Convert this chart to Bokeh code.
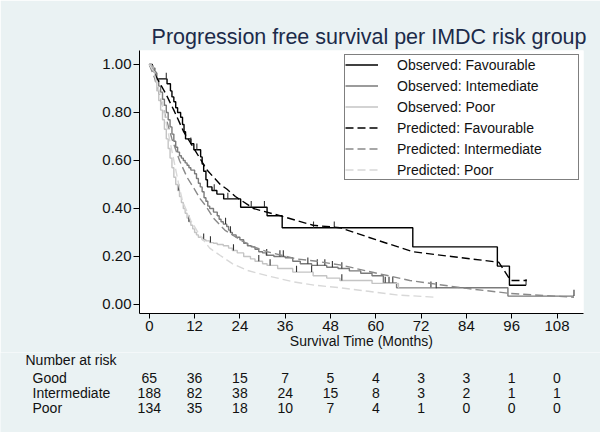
import numpy as np
from bokeh.plotting import figure
from bokeh.layouts import column
from bokeh.models import Range1d, Legend, LegendItem, FixedTicker, NumeralTickFormatter, Title
from bokeh.core.properties import value
from bokeh.embed import file_html
from bokeh.resources import INLINE

# ---------------- data ----------------
TIME_TICKS = [0, 12, 24, 36, 48, 60, 72, 84, 96, 108]
S_TICKS = [0.0, 0.2, 0.4, 0.6, 0.8, 1.0]

fav_obs_t = [0, 0.8, 1.2, 1.7, 4.7, 5.6, 6.0, 6.5, 7.0, 7.5, 8.3, 8.8, 9.2, 9.6, 11.0, 11.8,
             13.6, 14.0, 14.4, 15.0, 15.4, 16.6, 17.9, 19.7, 24.2, 31.2, 35.2, 69.8, 92.2, 95.4]
fav_obs_s = [1.0, 0.985, 0.97, 0.94, 0.92, 0.89, 0.865, 0.845, 0.82, 0.80, 0.78, 0.75, 0.72, 0.69,
             0.67, 0.645, 0.615, 0.585, 0.555, 0.52, 0.49, 0.475, 0.46, 0.44, 0.405, 0.37, 0.32,
             0.24, 0.16, 0.08]
fav_obs_end = 99.8
fav_cens = [4.5, 11.0, 12.6, 17.2, 20.8, 27.0, 30.5, 43.5, 49.0, 99.8]

int_obs_t = [0, 0.5, 1, 1.5, 2, 2.5, 3, 3.5, 4, 4.5, 5, 5.5, 6, 6.5, 7, 7.5, 8, 8.5, 9, 9.5,
             10, 10.5, 11, 12, 12.5, 13, 13.5, 14, 14.5, 15, 15.5, 16, 17, 18, 18.5, 19, 19.6,
             20.5, 21, 21.5, 22, 23, 24, 25, 26, 27, 28, 29, 30, 31, 33, 36, 38, 40, 43, 47, 50,
             53, 56, 59, 62, 65.5, 95]
int_obs_s = [1.0, 0.995, 0.985, 0.965, 0.94, 0.91, 0.885, 0.855, 0.83, 0.80, 0.77, 0.74, 0.71,
             0.68, 0.655, 0.635, 0.62, 0.61, 0.60, 0.59, 0.58, 0.57, 0.56, 0.545, 0.525, 0.505,
             0.49, 0.47, 0.445, 0.43, 0.41, 0.40, 0.385, 0.37, 0.355, 0.345, 0.335, 0.325, 0.31,
             0.30, 0.29, 0.28, 0.27, 0.255, 0.245, 0.24, 0.23, 0.22, 0.215, 0.205, 0.20, 0.195,
             0.18, 0.17, 0.163, 0.155, 0.15, 0.14, 0.13, 0.12, 0.09, 0.07, 0.035]
int_obs_end = 112.5
int_cens = [20.2, 21.5, 31.1, 34.6, 35.5, 42.0, 44.5, 46.5, 48.5, 51.0, 62.5, 63.5, 64.5, 74.6, 112.5]

poor_obs_t = [0, 0.5, 1, 1.5, 2, 2.5, 3, 3.5, 4, 4.5, 5, 5.5, 6, 6.5, 7, 7.5, 8, 8.5, 9, 9.5,
              10, 10.5, 11, 11.5, 12, 12.5, 13, 14, 15, 16, 17, 18, 19.6, 21, 22, 23.3, 25, 26.8,
              28, 30, 31.2, 34, 38, 43.4, 47, 50.5, 59, 66]
poor_obs_s = [1.0, 0.99, 0.97, 0.93, 0.89, 0.85, 0.81, 0.77, 0.73, 0.69, 0.65, 0.61, 0.57, 0.53,
              0.50, 0.475, 0.45, 0.425, 0.40, 0.38, 0.36, 0.345, 0.33, 0.315, 0.30, 0.29, 0.28,
              0.27, 0.265, 0.258, 0.255, 0.25, 0.245, 0.235, 0.225, 0.215, 0.20, 0.19, 0.18, 0.17,
              0.163, 0.15, 0.135, 0.12, 0.11, 0.10, 0.088, 0.068]
poor_obs_end = 76
poor_cens = [7.8, 10.5, 14.4, 16.2, 22.3, 29.0, 32.0, 39.0, 43.0, 51.0, 76]

fav_pred_t = [0, 2.5, 4.3, 6.5, 9.1, 12.2, 15.3, 18.8, 20.6, 22.8, 27.6, 34.6, 43.4, 50.5, 60,
              69.8, 80, 92.6, 95.7, 100]
fav_pred_s = [1.0, 0.93, 0.88, 0.81, 0.72, 0.64, 0.56, 0.50, 0.48, 0.45, 0.40, 0.37, 0.33, 0.32,
              0.27, 0.22, 0.20, 0.176, 0.10, 0.10]

int_pred_t = [0, 2, 4, 6, 8, 10, 12, 13.5, 15, 17, 20, 24, 27.6, 31.2, 39, 44.4, 50.5, 60.4, 69,
              84, 95.7, 112.5]
int_pred_s = [1.0, 0.92, 0.80, 0.69, 0.60, 0.53, 0.48, 0.44, 0.41, 0.36, 0.31, 0.27, 0.24, 0.22,
              0.19, 0.18, 0.165, 0.13, 0.10, 0.067, 0.046, 0.03]

poor_pred_t = [0, 1.2, 3.4, 5.6, 7.8, 8.8, 11, 13.5, 16, 18.8, 22, 26, 31.2, 38, 44, 50.5, 58,
               65.5, 76]
poor_pred_s = [1.0, 0.97, 0.84, 0.67, 0.50, 0.43, 0.35, 0.285, 0.235, 0.204, 0.17, 0.142, 0.12,
               0.095, 0.08, 0.07, 0.055, 0.04, 0.03]

risk_groups = ["Good", "Intermediate", "Poor"]
good_n = [65, 36, 15, 7, 5, 4, 3, 3, 1, 0]
int_n = [188, 82, 38, 24, 15, 8, 3, 2, 1, 1]
poor_n = [134, 35, 18, 10, 7, 4, 1, 0, 0, 0]

legend_labels = ["Observed: Favourable", "Observed: Intemediate", "Observed: Poor",
                 "Predicted: Favourable", "Predicted: Intermediate", "Predicted: Poor"]
title_text = "Progression free survival per IMDC risk group"
x_label = "Survival Time (Months)"
risk_header = "Number at risk"

# ---------------- styling / layout ----------------
FONT = "Liberation Sans"
BG = "#EAF2F3"
TXT_C = "#111111"
C_FAV, C_INT, C_POOR = "#000000", "#7a7a7a", "#c4c4c4"
C_FAV_P, C_INT_P, C_POOR_P = "#000000", "#8a8a8a", "#d8d8d8"
DASH = "8 4"

W = 600
H1 = 352              # main chart height
H2 = 432 - H1         # risk table height
F_LEFT, F_RIGHT, F_TOP, F_BOTTOM = 139, 583, 50, 313   # frame in page pixels
PX_T0, PX_PER_MONTH = 148.8, 3.775                      # time axis mapping in pixels


def t_at(px):
    return (px - PX_T0) / PX_PER_MONTH


x0, x1 = t_at(F_LEFT), t_at(F_RIGHT)
y0, y1 = -0.0375, 1.0583

p = figure(width=W, height=H1, output_backend="svg", toolbar_location=None,
           x_range=Range1d(x0, x1), y_range=Range1d(y0, y1),
           min_border_left=F_LEFT, min_border_right=W - F_RIGHT,
           min_border_top=F_TOP, min_border_bottom=H1 - F_BOTTOM)
p.background_fill_color = "white"
p.border_fill_color = BG
p.outline_line_color = None
p.xgrid.visible = False
p.ygrid.visible = False

p.title = Title(text=title_text, align="right", offset=-3, text_font=FONT, text_font_size="21.5px",
                text_font_style="normal", text_color="#1c2b4a", standoff=4)

for ax in (p.xaxis[0], p.yaxis[0]):
    ax.axis_line_color = "black"
    ax.major_tick_line_color = "black"
    ax.minor_tick_line_color = None
    ax.major_tick_in = 0
    ax.major_label_text_font = FONT
    ax.major_label_text_font_size = "15px"
    ax.major_label_text_color = TXT_C

p.xaxis.ticker = FixedTicker(ticks=TIME_TICKS)
p.xaxis.major_tick_out = 5
p.xaxis.major_label_standoff = 2
p.xaxis.axis_label = x_label
p.xaxis.axis_label_text_font = FONT
p.xaxis.axis_label_text_font_size = "14px"
p.xaxis.axis_label_text_font_style = "normal"
p.xaxis.axis_label_text_color = TXT_C
p.xaxis.axis_label_standoff = -1

p.yaxis.ticker = FixedTicker(ticks=S_TICKS)
p.yaxis.formatter = NumeralTickFormatter(format="0.00")
p.yaxis.major_tick_out = 6
p.yaxis.major_label_standoff = 2
p.yaxis.major_label_orientation = "horizontal"


def step_xy(t, s, end):
    return list(t) + [end], list(s) + [s[-1]]


def cens_xy(t, s, cens):
    t = np.asarray(t, float)
    s = np.asarray(s, float)
    c = np.asarray(cens, float)
    idx = np.searchsorted(t, c, side="right") - 1
    return c, s[idx]


TICK_H = 0.026
renderers = []
for t, s, end, cens, col in [(fav_obs_t, fav_obs_s, fav_obs_end, fav_cens, C_FAV),
                             (int_obs_t, int_obs_s, int_obs_end, int_cens, C_INT),
                             (poor_obs_t, poor_obs_s, poor_obs_end, poor_cens, C_POOR)]:
    xs, ys = step_xy(t, s, end)
    r = p.step(xs, ys, mode="after", line_color=col, line_width=1.4)
    renderers.append(r)
    cx, cy = cens_xy(t, s, cens)
    p.segment(x0=cx, y0=cy, x1=cx, y1=cy + TICK_H, line_color="#333333", line_width=1.1)

for t, s, col in [(fav_pred_t, fav_pred_s, C_FAV_P), (int_pred_t, int_pred_s, C_INT_P),
                  (poor_pred_t, poor_pred_s, C_POOR_P)]:
    r = p.line(t, s, line_color=col, line_width=1.4, line_dash=DASH)
    renderers.append(r)

legend = Legend(items=[LegendItem(label=lab, renderers=[r]) for lab, r in zip(legend_labels, renderers)],
                location="top_right", margin=4, padding=0, spacing=2,
                label_text_font=FONT, label_text_font_size="14px", label_text_color=TXT_C,
                glyph_width=33, glyph_height=19, label_height=19, label_standoff=19,
                label_width=181,
                border_line_color="black", border_line_width=1,
                background_fill_color="white", background_fill_alpha=1.0)
p.add_layout(legend)

# ---------------- number at risk table (second figure, same time scale) ----------------
p2 = figure(width=W, height=H2, output_backend="svg", toolbar_location=None,
            x_range=Range1d(t_at(0), t_at(W)), y_range=Range1d(432, H1),
            x_axis_location=None, y_axis_location=None, min_border=0)
p2.min_border_left = 0
p2.min_border_right = 0
p2.min_border_top = 0
p2.min_border_bottom = 0
for fig in (p, p2):
    if "frame_align" in fig.properties():
        fig.frame_align = False
p2.background_fill_color = BG
p2.border_fill_color = BG
p2.outline_line_color = None
p2.grid.visible = False

TXT = dict(text_font=value(FONT), text_font_size="14px", text_color=TXT_C, text_baseline="middle")
ROW_Y = [377, 392, 407]
HEAD_Y = 359
p2.text(x=[t_at(25)], y=[HEAD_Y], text=[risk_header], text_align="left", **TXT)
p2.text(x=[t_at(32)] * 3, y=ROW_Y, text=risk_groups, text_align="left", **TXT)
for counts, ry in zip([good_n, int_n, poor_n], ROW_Y):
    p2.text(x=TIME_TICKS, y=[ry] * len(TIME_TICKS), text=[str(n) for n in counts],
            text_align="center", **TXT)

open("out.html", "w").write(file_html(column(p, p2, spacing=0), INLINE))
